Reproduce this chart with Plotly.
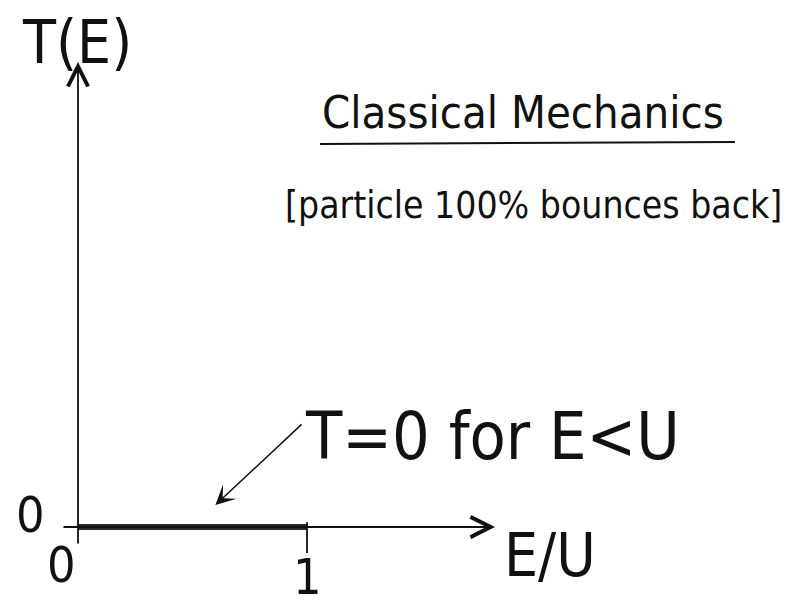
import plotly.graph_objects as go

# Transmission coefficient in the classical picture: T = 0 below the barrier top
e_over_u = [0.0, 1.0]
transmission = [0.0, 0.0]

# Axis tick labels
x_tick_vals = [0.0, 1.0]
x_tick_text = ["0", "1"]
y_tick_vals = [0.0]
y_tick_text = ["0"]

W, H = 787, 611
X_RANGE = [-0.3406, 3.0961]
Y_RANGE = [-0.21, 1.3175]

INK = "#111111"
FONT = "DejaVu Sans Condensed, DejaVu Sans, sans-serif"

fig = go.Figure()

# the T(E) = 0 segment for 0 <= E/U <= 1
fig.add_trace(go.Scatter(
    x=e_over_u, y=transmission, mode="lines",
    line=dict(color="#2a2a2a", width=6),
    hoverinfo="skip", showlegend=False,
))

annotations = []


def arrow(x0, y0, x1, y1, head=5, size=2.2, width=1.8):
    annotations.append(dict(
        x=x1, y=y1, ax=x0, ay=y0, xref="x", yref="y", axref="x", ayref="y",
        text="", showarrow=True, arrowhead=head, arrowsize=size,
        arrowwidth=width, arrowcolor=INK,
    ))


def label(text, x, y, size, xref="paper", yref="paper"):
    annotations.append(dict(
        x=x, y=y, xref=xref, yref=yref, text=text, showarrow=False,
        xanchor="center", yanchor="middle",
        font=dict(family=FONT, size=size, color=INK),
    ))


# axes drawn as arrows through the origin
arrow(0.0, -0.045, 0.0, 1.1625)
arrow(-0.07, 0.0, 1.821, 0.0)

# tick mark at E/U = 1
fig.add_shape(type="line", x0=x_tick_vals[1], x1=x_tick_vals[1], y0=0.012, y1=-0.065,
              xref="x", yref="y", line=dict(color=INK, width=1.8))

# tick labels
label(x_tick_text[0], x_tick_vals[0] - 0.07, -0.095, 50, xref="x", yref="y")
label(x_tick_text[1], x_tick_vals[1], -0.125, 50, xref="x", yref="y")
label(y_tick_text[0], 30 / W, y_tick_vals[0] + 0.03, 50, xref="paper", yref="y")

# axis titles
label("T(E)", 77 / W, 1 - 42 / H, 60)
label("E/U", 550 / W, 1 - 555 / H, 60)

# headings
label("Classical Mechanics", 523 / W, 1 - 112 / H, 45)
fig.add_shape(type="line", x0=320 / W, x1=735 / W, y0=1 - 144 / H, y1=1 - 142 / H,
              xref="paper", yref="paper", line=dict(color=INK, width=2))
label("[particle 100% bounces back]", 533 / W, 1 - 205 / H, 37)

# note pointing at the zero segment
label("T=0 for E<U", 492 / W, 1 - 436 / H, 66)
arrow(0.983, 0.26, 0.60, 0.055, head=3, size=2.2, width=1.5)

fig.update_layout(
    width=W, height=H, autosize=False,
    margin=dict(l=0, r=0, t=0, b=0),
    paper_bgcolor="white", plot_bgcolor="white",
    xaxis=dict(range=X_RANGE, visible=False, fixedrange=True),
    yaxis=dict(range=Y_RANGE, visible=False, fixedrange=True),
    annotations=annotations,
    showlegend=False,
)

fig.write_html("out.html")
